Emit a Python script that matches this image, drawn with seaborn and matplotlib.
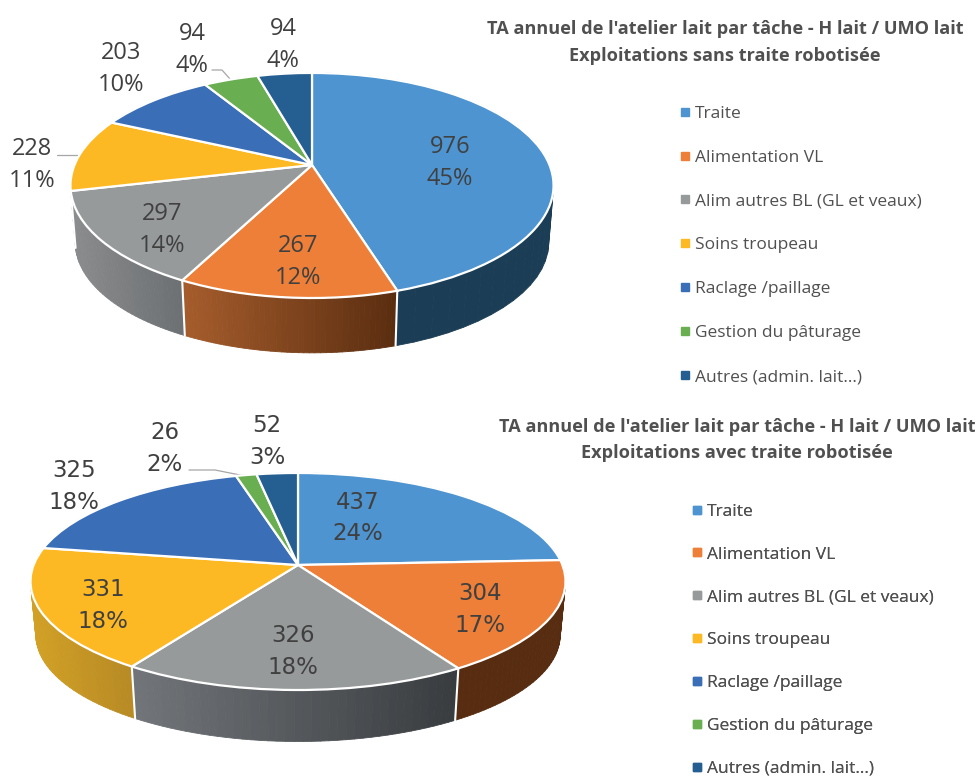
import numpy as np
import matplotlib
matplotlib.use("Agg")
import matplotlib.pyplot as plt
from matplotlib.collections import PolyCollection
from matplotlib.colors import to_rgb
from matplotlib.lines import Line2D
from matplotlib.transforms import Transform
import seaborn as sns

sns.set_theme(style="white")
plt.rcParams["font.family"] = ["Open Sans", "DejaVu Sans"]

taches = ["Traite", "Alimentation VL", "Alim autres BL (GL et veaux)", "Soins troupeau",
          "Raclage /paillage", "Gestion du pâturage", "Autres (admin. lait…)"]
heures_sans = [976, 267, 297, 228, 203, 94, 94]
pct_sans = [45, 12, 14, 11, 10, 4, 4]
heures_avec = [437, 304, 326, 331, 325, 26, 52]
pct_avec = [24, 17, 18, 18, 18, 2, 3]
titre_commun = "TA annuel de l'atelier lait par tâche - H lait / UMO lait"
titre_sans = "Exploitations sans traite robotisée"
titre_avec = "Exploitations avec traite robotisée"

couleurs = sns.color_palette(["#4e94d0", "#ed7f38", "#969a9b", "#fdb924", "#3a6fb7", "#6aae52", "#255f92"])
# side wall shading, left -> right, one pair per slice
cotes_sans = [("#1b3d55", "#1b3d55"), ("#a65d2c", "#5a2d10"), ("#8b8c8e", "#6c7072"), ("#8b8c8e", "#8b8c8e"),
              ("#2a5288", "#2a5288"), ("#4f823c", "#4f823c"), ("#1b466c", "#1b466c")]
cotes_avec = [("#2a5a85", "#2a5a85"), ("#572c10", "#572c10"), ("#72767a", "#383c3f"), ("#d2a125", "#b78a25"),
              ("#d2a125", "#d2a125"), ("#4f823c", "#4f823c"), ("#1b466c", "#1b466c")]
txt = "#404040"


class Perspective(Transform):
    input_dims = 2
    output_dims = 2
    has_inverse = False

    def __init__(self, cx, cy, a, s, k, drop=0.0, shrink=1.0):
        super().__init__()
        self.p = (cx, cy, a, s, k, drop, shrink)

    def transform_non_affine(self, xy):
        cx, cy, a, s, k, drop, shrink = self.p
        xy = np.asarray(xy, dtype=float)
        w = 1 + k * xy[:, 1]
        return np.column_stack([cx + shrink * a * xy[:, 0] / w, cy + drop - shrink * s * xy[:, 1] / w])


def pie_3d(ax, valeurs, cotes, geom, drop, shrink=0.98):
    haut = Perspective(*geom)
    bas = Perspective(*geom, drop=drop, shrink=shrink)

    wedges, _ = ax.pie(valeurs, colors=couleurs, startangle=90, counterclock=False,
                       wedgeprops=dict(edgecolor="white", linewidth=1.6))
    for w in wedges:
        w.set_transform(haut + ax.transData)
        w.set_zorder(3)

    polys, teintes = [], []
    for w, (g, d) in zip(wedges, cotes):
        t = np.radians(np.linspace(w.theta1, w.theta2, 41))
        rim = np.column_stack([np.cos(t), np.sin(t)])
        r_h, r_b = haut.transform(rim), bas.transform(rim)
        g, d = np.array(to_rgb(g)), np.array(to_rgb(d))
        xs = r_h[:, 0]
        for i in range(40):
            polys.append([r_h[i], r_h[i + 1], r_b[i + 1], r_b[i]])
            f = ((xs[i] + xs[i + 1]) / 2 - xs.min()) / max(xs.max() - xs.min(), 1e-6)
            teintes.append(g + (d - g) * f)
        # white seam on the visible edges of the wall
        if np.sin(t[0]) < -0.2:
            bord = np.array([[np.cos(t[0]), np.sin(t[0])]])
            ax.plot([haut.transform(bord)[0, 0], bas.transform(bord)[0, 0]],
                    [haut.transform(bord)[0, 1], bas.transform(bord)[0, 1]],
                    color="white", lw=1.5, zorder=2.5)
    ax.add_collection(PolyCollection(polys, facecolors=teintes, edgecolors=teintes, linewidths=0.6, zorder=2))


def etiquettes(ax, valeurs, pcts, places, **kw):
    for v, p, (x, y) in zip(valeurs, pcts, places):
        ax.text(x, y - 16, str(v), ha="center", va="center", color=txt, zorder=5, **kw)
        ax.text(x, y + 16, f"{p}%", ha="center", va="center", color=txt, zorder=5, **kw)


def legende(ax, x, y, ecart=1.6):
    poignees = [Line2D([], [], ls="", marker="s", ms=5.5, color=c) for c in couleurs]
    leg = ax.legend(poignees, taches, loc="upper left", bbox_to_anchor=(x, y), bbox_transform=ax.transData,
                    frameon=False, fontsize=12.5, labelcolor="#505050", labelspacing=ecart, handletextpad=0.05,
                    handlelength=1.0, borderpad=0, borderaxespad=0)
    ax.add_artist(leg)


fig = plt.figure(figsize=(9.79, 7.79), dpi=100)
ax = fig.add_axes([0, 0, 1, 1])

pie_3d(ax, heures_sans, cotes_sans, (312, 165, 237.5, 108.8, 0.182), 57.5)
pie_3d(ax, heures_avec, cotes_avec, (298, 565, 264.4, 106, 0.152), 54)

ax.set_aspect("auto")
ax.set_xlim(0, 979)
ax.set_ylim(779, 0)
ax.set_axis_off()

etiquettes(ax, heures_sans, pct_sans, [(450, 163), (298, 262), (162, 230), (32, 165), (121, 69), (192, 50), (283, 45)],
           fontsize=17)
etiquettes(ax, heures_avec, pct_avec, [(358, 518), (480, 610), (293, 652), (103, 606), (74, 486), (165, 448), (267, 441)],
           fontsize=16.5, family="DejaVu Sans")

# leader lines
ax.plot([57, 79], [155, 155], color="#a6a6a6", lw=0.9, zorder=1)
ax.plot([212, 222, 230], [70, 70, 79], color="#a6a6a6", lw=0.9, zorder=1)
ax.plot([189, 215, 245], [470, 470, 476], color="#a6a6a6", lw=0.9, zorder=1)

for cx, y, t in [(725, 29, titre_commun), (725, 56, titre_sans), (737, 427, titre_commun), (737, 453, titre_avec)]:
    ax.text(cx, y, t, ha="center", va="center", fontsize=13.1, fontweight="bold", color="#505050",
            family=["Open Sans", "DejaVu Sans"])

legende(ax, 676.5, 105.5)
legende(ax, 688.5, 503.5, ecart=1.54)

fig.savefig("out.png", dpi=100)
